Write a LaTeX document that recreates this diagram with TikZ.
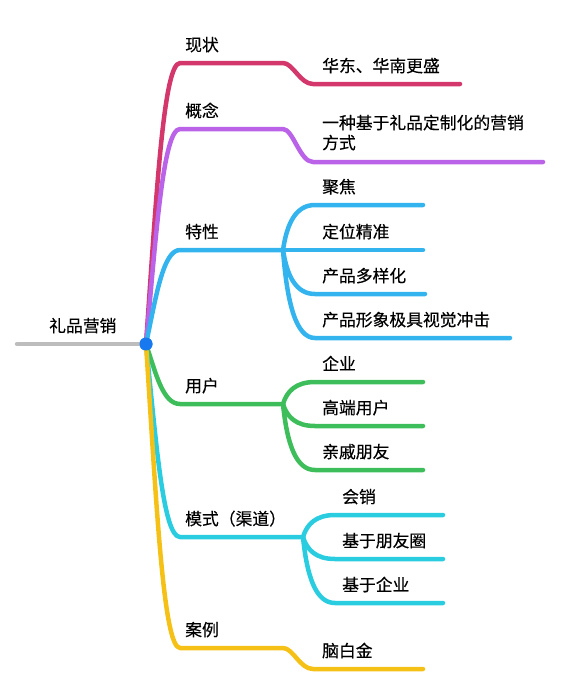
\documentclass[tikz,border=0pt]{standalone}
\usepackage{fontspec}
\newfontfamily\cjk[FakeBold=0.35]{Noto Sans CJK SC}
\definecolor{cRed}{HTML}{D4376C}
\definecolor{cPurple}{HTML}{BA62E8}
\definecolor{cBlue}{HTML}{34B4EE}
\definecolor{cGreen}{HTML}{3EBD5B}
\definecolor{cCyan}{HTML}{2ACCE0}
\definecolor{cYellow}{HTML}{F6C117}
\definecolor{cGray}{HTML}{BDBDBD}
\definecolor{cDot}{HTML}{1878F0}
\begin{document}
\begin{tikzpicture}[x=1pt,y=-1pt,
  br/.style={line width=4.5pt, line cap=round, line join=round},
  lab/.style={anchor=base west, inner sep=0pt, font=\cjk\fontsize{16.8}{20}\selectfont}]
\useasboundingbox (0,0) rectangle (562,686);
% root
\coordinate (rootL) at (17,344);
\node[circle, fill=cDot, minimum size=13pt, inner sep=0pt] (root) at (146,344) {};
% branch 1
\coordinate (a1) at (180,63); \coordinate (a1e) at (283,63);
\coordinate (c1s) at (313,84); \coordinate (c1e) at (460,84);
\draw[br, cRed] (root.center) .. controls +(10,-140.5) and +(-17,0) .. (a1) -- (a1e)
  .. controls +(10,0) and +(-13,0) .. (c1s) -- (c1e);
% branch 2
\coordinate (a2) at (180,129); \coordinate (a2e) at (283,129);
\coordinate (c2s) at (313,162); \coordinate (c2e) at (543,162);
\draw[br, cPurple] (root.center) .. controls +(10,-107.5) and +(-17,0) .. (a2) -- (a2e)
  .. controls +(10,0) and +(-13,0) .. (c2s) -- (c2e);
% branch 3
\coordinate (a3) at (180,250); \coordinate (a3e) at (283,250);
\coordinate (d31s) at (315,205); \coordinate (d31e) at (423,205);
\coordinate (d32e) at (423,250);
\coordinate (d33s) at (315,294); \coordinate (d33e) at (425,294);
\coordinate (d34s) at (315,338); \coordinate (d34e) at (510,338);
\draw[br, cBlue] (root.center) .. controls +(10,-47) and +(-17,0) .. (a3) -- (a3e);
\draw[br, cBlue] (a3e) .. controls +(4,-27) and +(-19,0) .. (d31s) -- (d31e);
\draw[br, cBlue] (a3e) -- (d32e);
\draw[br, cBlue] (a3e) .. controls +(4,26) and +(-19,0) .. (d33s) -- (d33e);
\draw[br, cBlue] (a3e) .. controls +(4,53) and +(-19,0) .. (d34s) -- (d34e);
% branch 4
\coordinate (a4) at (180,404); \coordinate (a4e) at (283,404);
\coordinate (d41s) at (315,382); \coordinate (d41e) at (423,382);
\coordinate (d42s) at (315,426); \coordinate (d42e) at (423,426);
\coordinate (d43s) at (315,470); \coordinate (d43e) at (423,470);
\draw[br, cGreen] (root.center) .. controls +(10,30) and +(-17,0) .. (a4) -- (a4e);
\draw[br, cGreen] (a4e) .. controls +(4,-13) and +(-19,0) .. (d41s) -- (d41e);
\draw[br, cGreen] (a4e) .. controls +(4,13) and +(-19,0) .. (d42s) -- (d42e);
\draw[br, cGreen] (a4e) .. controls +(4,40) and +(-19,0) .. (d43s) -- (d43e);
% branch 5
\coordinate (a5) at (180,537); \coordinate (a5e) at (303,537);
\coordinate (d51s) at (335,515); \coordinate (d51e) at (443,515);
\coordinate (d52s) at (335,559); \coordinate (d52e) at (443,559);
\coordinate (d53s) at (335,603); \coordinate (d53e) at (443,603);
\draw[br, cCyan] (root.center) .. controls +(10,96.5) and +(-17,0) .. (a5) -- (a5e);
\draw[br, cCyan] (a5e) .. controls +(4,-13) and +(-19,0) .. (d51s) -- (d51e);
\draw[br, cCyan] (a5e) .. controls +(4,13) and +(-19,0) .. (d52s) -- (d52e);
\draw[br, cCyan] (a5e) .. controls +(4,40) and +(-19,0) .. (d53s) -- (d53e);
% branch 6
\coordinate (a6) at (180,648); \coordinate (a6e) at (283,648);
\coordinate (c6s) at (313,669); \coordinate (c6e) at (423,669);
\draw[br, cYellow] (root.center) .. controls +(10,152) and +(-17,0) .. (a6) -- (a6e)
  .. controls +(10,0) and +(-13,0) .. (c6s) -- (c6e);
% root line and dot on top
\draw[br, cGray] (rootL) -- (root.center);
\node[circle, fill=cDot, minimum size=13pt, inner sep=0pt] at (root) {};
% labels
\node[lab] (tRoot) at (49,332) {礼品营销};
\node[lab] (t1) at (185,51) {现状};
\node[lab] (t2) at (185,117) {概念};
\node[lab] (t3) at (185,238) {特性};
\node[lab] (t4) at (185,392) {用户};
\node[lab] (t5) at (185,525) {模式（渠道）};
\node[lab] (t6) at (185,636) {案例};
\node[lab] (s1) at (322,72) {华东、华南更盛};
\node[lab] (s2a) at (322,129) {一种基于礼品定制化的营销};
\node[lab] (s2b) at (322,149) {方式};
\node[lab] (s31) at (322,193) {聚焦};
\node[lab] (s32) at (322,238) {定位精准};
\node[lab] (s33) at (322,282) {产品多样化};
\node[lab] (s34) at (322,326) {产品形象极具视觉冲击};
\node[lab] (s41) at (322,370) {企业};
\node[lab] (s42) at (322,414) {高端用户};
\node[lab] (s43) at (322,458) {亲戚朋友};
\node[lab] (s51) at (342,503) {会销};
\node[lab] (s52) at (342,547) {基于朋友圈};
\node[lab] (s53) at (342,591) {基于企业};
\node[lab] (s61) at (322,657) {脑白金};
\end{tikzpicture}
\end{document}
